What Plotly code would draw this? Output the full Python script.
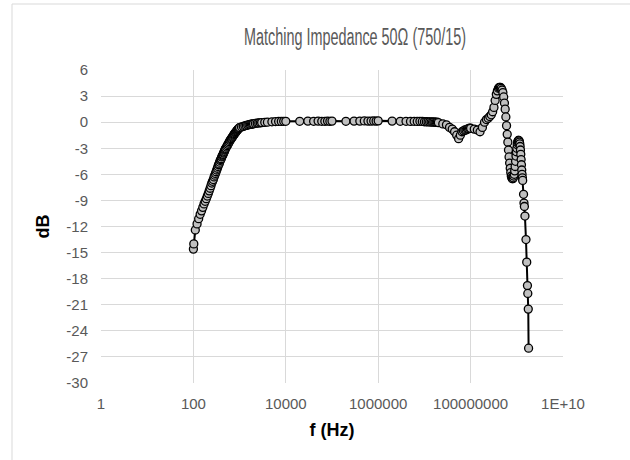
import plotly.graph_objects as go

# ---- data ----
low_f = [100, 102, 110, 120, 130, 140, 150, 160, 170, 180, 190, 200, 210, 220, 230, 240, 250,
         260, 270, 280, 290, 300, 310, 320, 330, 340, 350, 360, 370, 380, 390, 400, 410, 420,
         430, 440, 450, 460, 470, 480, 490, 500, 520, 540, 560, 580, 600, 620, 640, 660, 680,
         700, 720, 740, 760, 780, 800, 820, 840, 860, 880, 900, 920, 940, 960, 980, 1000,
         1100, 1200, 1300, 1400, 1500, 1600, 1700, 1800, 1900, 2000, 2200, 2400, 2600, 2800,
         3000, 3500, 4000]
low_db = [-14.6, -14.0, -12.4, -11.7, -11.1, -10.6, -10.2, -9.8, -9.4, -9.1, -8.8, -8.5, -8.2,
          -7.9, -7.6, -7.3, -7.0, -6.8, -6.6, -6.3, -6.1, -5.9, -5.7, -5.5, -5.3, -5.1, -4.9,
          -4.8, -4.6, -4.4, -4.3, -4.2, -4.0, -3.9, -3.8, -3.7, -3.55, -3.45, -3.35, -3.2, -3.1,
          -3.0, -2.85, -2.7, -2.55, -2.4, -2.25, -2.1, -2.0, -1.9, -1.8, -1.7, -1.6, -1.5, -1.4,
          -1.32, -1.25, -1.17, -1.1, -1.02, -0.95, -0.88, -0.82, -0.77, -0.72, -0.67, -0.62,
          -0.55, -0.48, -0.42, -0.37, -0.33, -0.29, -0.26, -0.23, -0.21, -0.19, -0.15, -0.12,
          -0.09, -0.07, -0.05, -0.02, 0.0]

mid_f = [5e3, 6e3, 7e3, 8e3, 9e3,
         1e4, 2e4, 3e4, 4e4, 5e4, 6e4, 7e4, 8e4, 9e4,
         1e5, 2e5, 3e5, 4e5, 5e5, 6e5, 7e5, 8e5, 9e5,
         1e6, 2e6, 3e6, 4e6, 5e6, 6e6, 7e6, 8e6, 9e6,
         1.0e7, 1.1e7, 1.2e7, 1.3e7, 1.4e7, 1.5e7, 1.6e7, 1.7e7, 1.8e7, 1.9e7, 2.0e7]
mid_db = [0.04, 0.07, 0.08, 0.09, 0.1,
          0.1, 0.1, 0.12, 0.1, 0.12, 0.1, 0.1, 0.12, 0.1,
          0.12, 0.1, 0.12, 0.12, 0.14, 0.12, 0.12, 0.14, 0.12,
          0.15, 0.12, 0.1, 0.1, 0.08, 0.1, 0.08, 0.1, 0.08,
          0.05, 0.05, 0.03, 0.03, 0.02, 0.0, 0.02, 0.0, -0.02, 0.0, -0.05]

high_f = [2.5e7, 3.0e7, 3.5e7, 4.0e7, 4.5e7, 5.0e7, 5.5e7, 6.0e7, 6.5e7, 7.0e7, 7.5e7, 8.0e7,
          8.5e7, 9.0e7, 9.5e7, 1.0e8,
          1.2e8, 1.4e8, 1.6e8, 1.8e8, 2.0e8, 2.2e8, 2.4e8, 2.6e8, 2.8e8, 3.0e8, 3.2e8, 3.4e8,
          3.6e8, 3.8e8, 4.0e8, 4.2e8, 4.4e8, 4.6e8, 4.8e8, 5.0e8, 5.2e8, 5.4e8, 5.6e8, 5.8e8,
          6.0e8, 6.2e8, 6.4e8, 6.6e8, 6.8e8, 7.0e8, 7.2e8, 7.4e8, 7.6e8, 7.8e8, 8.0e8, 8.2e8,
          8.4e8, 8.6e8, 8.8e8, 9.0e8, 9.2e8, 9.4e8, 9.6e8, 9.8e8, 1.00e9, 1.02e9, 1.04e9,
          1.06e9, 1.08e9, 1.10e9, 1.12e9, 1.14e9, 1.16e9, 1.18e9, 1.20e9, 1.22e9, 1.24e9,
          1.26e9, 1.28e9, 1.30e9, 1.32e9, 1.34e9,
          1.40e9, 1.43e9, 1.46e9, 1.50e9, 1.58e9, 1.64e9, 1.70e9, 1.73e9, 1.77e9, 1.80e9]
high_db = [-0.2, -0.3, -0.6, -0.8, -1.1, -1.5, -1.9, -1.5, -1.1, -1.0, -0.9, -0.9,
           -0.8, -0.75, -0.7, -0.7,
           -0.8, -0.9, -1.1, -0.6, 0.0, 0.3, 0.45, 0.65, 0.85, 1.2, 1.7, 2.5,
           3.2, 3.6, 3.9, 4.0, 4.0, 3.9, 3.7, 3.4, 2.9, 2.2, 1.5, 0.6,
           -0.4, -1.4, -2.3, -3.2, -4.0, -4.7, -5.3, -5.8, -6.2, -6.4, -6.5, -6.5,
           -6.4, -6.2, -6.0, -5.6, -5.1, -4.5, -3.9, -3.4, -3.0, -2.6, -2.35,
           -2.2, -2.1, -2.1, -2.15, -2.3, -2.5, -2.8, -3.2, -3.7, -4.3,
           -4.9, -5.5, -6.0, -6.4, -6.7,
           -8.3, -9.3, -9.7, -10.8, -13.5, -16.1, -18.8, -19.7, -21.5, -26.0]

freq_hz = low_f + mid_f + high_f
gain_db = low_db + mid_db + high_db

x_tickvals = [1, 100, 1e4, 1e6, 1e8, 1e10]
x_ticktext = ["1", "100", "10000", "1000000", "100000000", "1E+10"]
y_tickvals = [6, 3, 0, -3, -6, -9, -12, -15, -18, -21, -24, -27, -30]
y_ticktext = ["6", "3", "0", "-3", "-6", "-9", "-12", "-15", "-18", "-21", "-24", "-27", "-30"]

fig = go.Figure()
fig.add_trace(go.Scatter(
    x=freq_hz, y=gain_db, mode="lines+markers",
    line=dict(color="black", width=2),
    marker=dict(symbol="circle", size=8, color="#c0c0c0",
                line=dict(color="black", width=1.3)),
    showlegend=False, hoverinfo="x+y",
))

grid = "#d9d9d9"
tick_font = dict(family="Liberation Sans, Arial, sans-serif", size=15, color="#595959")

fig.update_layout(
    width=630, height=460,
    margin=dict(l=101, r=67, t=70, b=77),
    paper_bgcolor="white", plot_bgcolor="white",
    title=dict(text="Matching Impedance 50Ω (750/15)",
               x=355 / 630, xref="container", xanchor="center",
               y=1 - 37 / 460, yref="container", yanchor="middle",
               font=dict(family="Liberation Sans, Arial, sans-serif",
                         size=23, color="#595959")),
    xaxis=dict(type="log", range=[0, 10], tickvals=x_tickvals, ticktext=x_ticktext,
               showgrid=True, gridcolor=grid, gridwidth=1, showline=False,
               zeroline=False, ticks="", tickfont=tick_font, ticklabelstandoff=10,
               title=dict(text="<b>f (Hz)</b>", standoff=12,
                          font=dict(family="Liberation Sans, Arial, sans-serif", size=18, color="black"))),
    yaxis=dict(range=[-30, 6], tickvals=y_tickvals, ticktext=y_ticktext,
               showgrid=True, gridcolor=grid, gridwidth=1, showline=False,
               zeroline=False, ticks="", tickfont=tick_font, ticklabelstandoff=12,
               title=dict(text="<b>dB</b>", standoff=12,
                          font=dict(family="Liberation Sans, Arial, sans-serif", size=18, color="black"))),
)

# outer chart-area border (light gray), partly cropped by the image edge
fig.add_shape(type="rect", xref="paper", yref="paper",
              x0=(12 - 101) / 462, x1=(660 - 101) / 462,
              y0=(383 - 480) / 313, y1=(383 - 4) / 313,
              line=dict(color="#d9d9d9", width=1), fillcolor="rgba(0,0,0,0)", layer="below")

post = """
document.body.style.margin = '0';
document.body.style.padding = '0';
var gd = document.getElementById('{plot_id}');
function fixTitle() {
  var t = gd.querySelector('.gtitle');
  if (t) {
    t.setAttribute('textLength', '222');
    t.setAttribute('lengthAdjust', 'spacingAndGlyphs');
  }
}
fixTitle();
if (gd.on) { gd.on('plotly_afterplot', fixTitle); }
"""

fig.write_html("out.html", post_script=post, config={"displayModeBar": False})
